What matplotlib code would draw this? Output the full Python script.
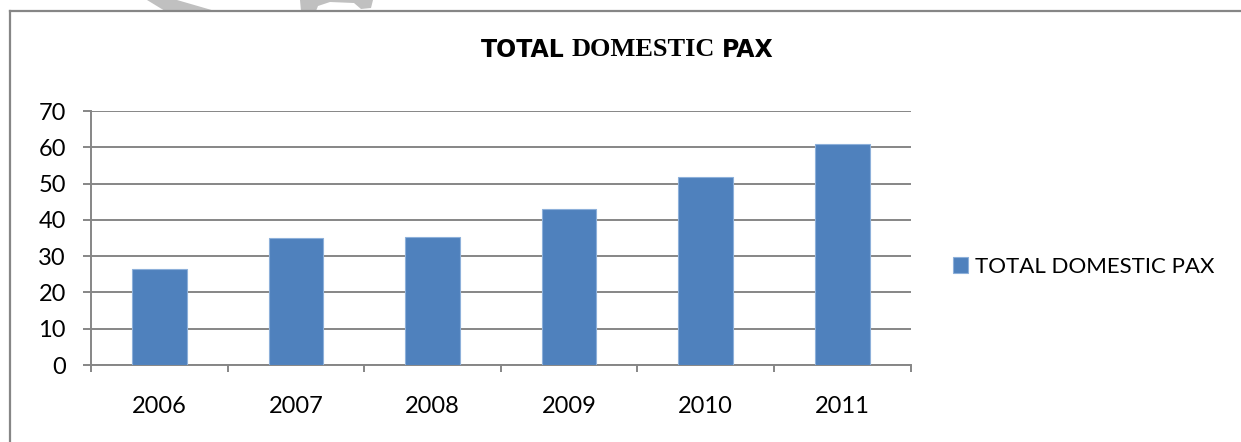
"""Total domestic pax bar chart, Excel style."""

import matplotlib

matplotlib.use("Agg")
import matplotlib.pyplot as plt
from matplotlib.lines import Line2D
from matplotlib.patches import Polygon

years = ["2006", "2007", "2008", "2009", "2010", "2011"]
pax = [26.4, 35.1, 35.2, 42.9, 51.9, 60.8]
series_name = "TOTAL DOMESTIC PAX"

W, H = 1241, 442
BLUE = "#4F81BD"
GREY = "#868686"
SANS = "Lato"


def fx(px):
    return px / W


def fy(py):
    return 1 - py / H


fig = plt.figure(figsize=(W / 100, H / 100), dpi=100)

# faint watermark fragments along the top edge
wm = [
    [(147, 0), (177, 0), (215, 11), (165, 11)],
    [(300, 0), (373, 0), (371, 8), (361, 9), (354, 3), (330, 2), (318, 6), (316, 11), (301, 11)],
]
for pts in wm:
    fig.patches.append(
        Polygon([(fx(x), fy(y)) for x, y in pts], closed=True, transform=fig.transFigure,
                facecolor="#C0C0C0", edgecolor="none", zorder=0)
    )

# chart area border (top and left visible)
fig.lines.append(Line2D([fx(10), 1], [fy(11), fy(11)], transform=fig.transFigure,
                        color=GREY, linewidth=1.6, zorder=1))
fig.lines.append(Line2D([fx(10), fx(10)], [fy(11), 0], transform=fig.transFigure,
                        color=GREY, linewidth=1.6, zorder=1))

ax = fig.add_axes([fx(91), fy(365), fx(910.7) - fx(91), fy(111) - fy(365)])
x = range(len(years))
ax.bar(x, pax, width=0.4, color=BLUE, edgecolor="#8DB0DA", linewidth=0.8,
       label=series_name, zorder=3)

ax.set_xlim(-0.5, len(years) - 0.5)
ax.set_ylim(0, 70)
ax.set_yticks(range(0, 71, 10))
ax.set_xticks(list(x))
ax.set_xticklabels(years)
ax.set_xticks([i - 0.5 for i in range(len(years) + 1)], minor=True)

ax.grid(True, axis="y", color=GREY, linewidth=1.4, zorder=0)
ax.set_axisbelow(True)
for s in ["top", "right"]:
    ax.spines[s].set_visible(False)
for s in ["left", "bottom"]:
    ax.spines[s].set_color(GREY)
    ax.spines[s].set_linewidth(1.4)

ax.tick_params(axis="y", length=6, width=1.4, color=GREY, pad=12,
               labelsize=17, labelfontfamily=SANS)
ax.tick_params(axis="x", which="major", length=0, pad=22, labelsize=17, labelfontfamily=SANS)
ax.tick_params(axis="x", which="minor", length=5, width=1.4, color=GREY)

fig.legend(loc="center left", bbox_to_anchor=(fx(953), fy(266.7)), frameon=False,
           prop={"family": SANS, "size": 16}, handlelength=0.68, handleheight=0.68,
           handletextpad=0.3, borderpad=0, borderaxespad=0)

# title with mixed fonts, as in the source
parts = [
    ("TOTAL", dict(family="DejaVu Sans", weight="bold", size=17)),
    ("DOMESTIC", dict(family="Liberation Serif", weight="bold", size=19)),
    ("PAX", dict(family="DejaVu Sans", weight="bold", size=17)),
]
texts = [fig.text(0, fy(50), s, va="center", ha="left", **kw) for s, kw in parts]
fig.canvas.draw()
r = fig.canvas.get_renderer()
widths = [t.get_window_extent(r).width for t in texts]
gap = 7
total = sum(widths) + gap * (len(widths) - 1)
left = 627 - total / 2
for t, w in zip(texts, widths):
    t.set_x(fx(left))
    left += w + gap

plt.savefig("out.png", dpi=100)
plt.close()
